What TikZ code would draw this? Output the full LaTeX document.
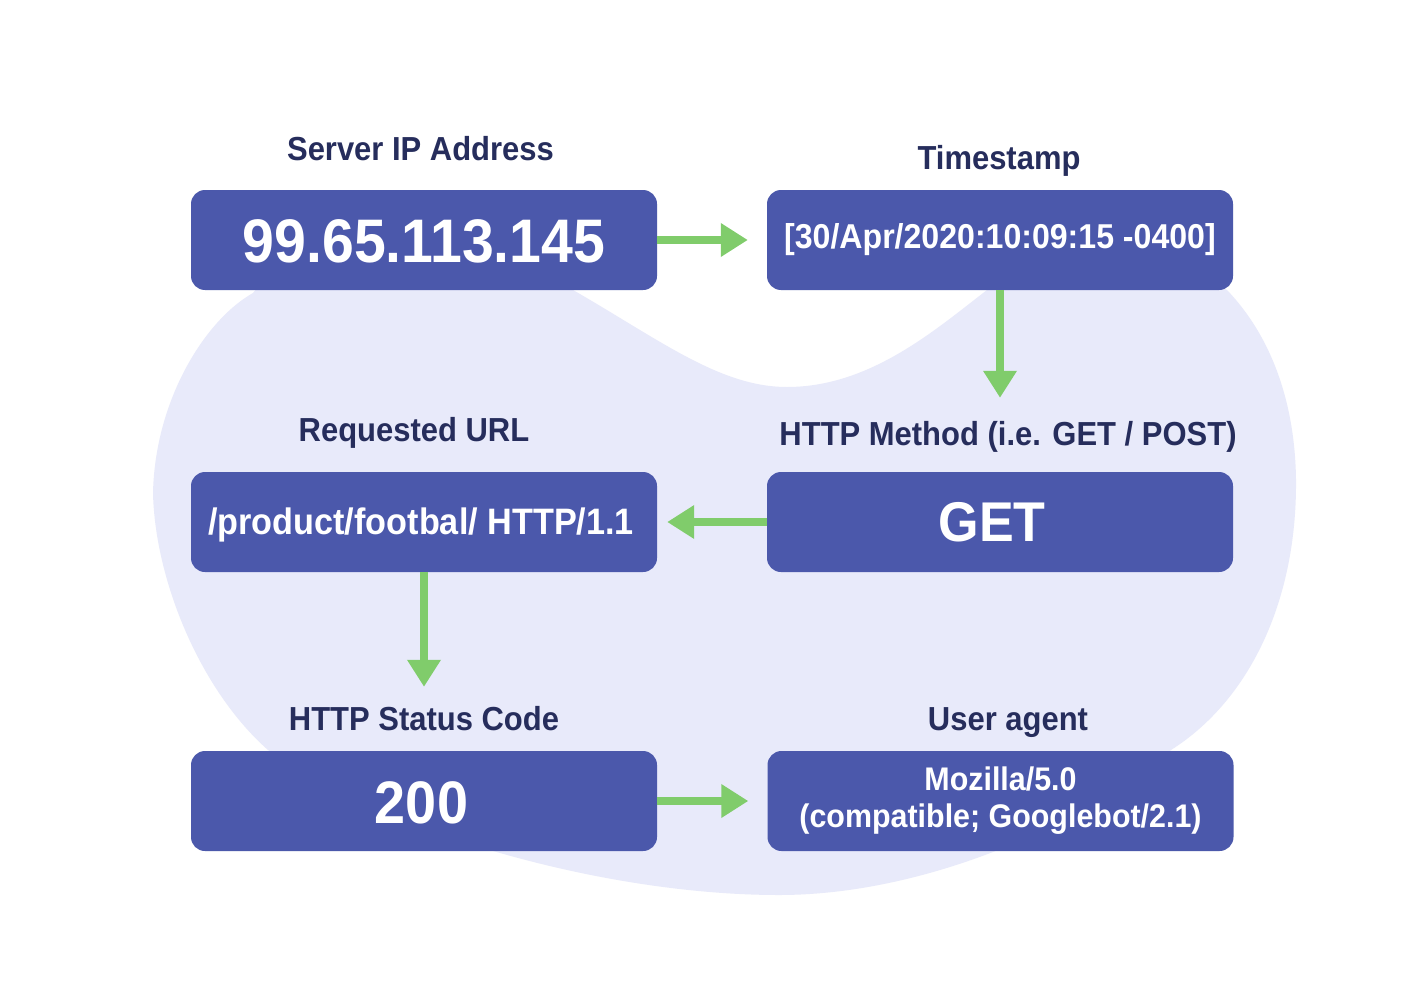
\documentclass[tikz,border=0pt]{standalone}
\usepackage{fontspec}
\usetikzlibrary{arrows.meta}
\newfontfamily\rob[FakeStretch=0.93]{Liberation Sans}
\definecolor{boxblue}{HTML}{4B58AB}
\definecolor{navy}{HTML}{262D5C}
\definecolor{blobc}{HTML}{E8EAFA}
\definecolor{arrgreen}{HTML}{80CC6B}
\newcommand{\lowerby}[2]{\raisebox{-#1}[\height][\depth]{#2}}
\tikzset{
  databox/.style={fill=boxblue, draw=none, rounded corners=14pt, minimum width=466pt, minimum height=100pt, inner sep=0pt, text=white, font=\rob\bfseries, align=center},
  lbl/.style={anchor=base, text=navy, inner sep=0pt, font=\rob\bfseries\fontsize{33.3}{36}\selectfont},
  flow/.style={draw=arrgreen, line width=8.5pt, -{Triangle[length=27pt,width=32pt]}, arrgreen}
}
\begin{document}
\begin{tikzpicture}[x=1pt,y=-1pt]
\fill[white] (0,0) rectangle (1426,1006);
\useasboundingbox (0,0) rectangle (1426,1006);
% background blob
\fill[blobc] (573,290) .. controls (660,340) and (720,387) .. (787,387)
  .. controls (870,387) and (935,330) .. (987,290)
  -- (997,282) -- (1212,282) -- (1227,290)
  .. controls (1270,335) and (1295,400) .. (1296,480)
  .. controls (1297,600) and (1250,700) .. (1171,750)
  .. controls (1090,820) and (930,895) .. (779,895)
  .. controls (600,895) and (380,830) .. (268,750)
  .. controls (200,690) and (155,580) .. (153,493)
  .. controls (155,400) and (205,320) .. (253,293)
  -- (262,282) -- (565,282) -- cycle;
% boxes
\node[databox, font=\rob\bfseries\fontsize{61.5}{61}\selectfont] (ip) at (424,240) {\lowerby{1pt}{99.65.113.145}};
\node[databox, font=\rob\bfseries\fontsize{34.5}{36}\selectfont] (ts) at (1000,240) {[30/Apr/2020:10:09:15 -0400]};
\node[databox, font=\rob\bfseries\fontsize{36.8}{38}\selectfont] (url) at (424,522) {\lowerby{3pt}{/product/footbal/ HTTP/1.1}\hspace*{6pt}};
\node[databox, font=\rob\bfseries\fontsize{56}{58}\selectfont] (meth) at (1000,522) {GET\hspace*{16pt}};
\node[databox, font=\rob\bfseries\fontsize{60}{60}\selectfont] (code) at (424,801) {\lowerby{2pt}{200}\hspace*{5pt}};
\node[databox, font=\rob\bfseries\fontsize{32.7}{37}\selectfont] (ua) at (1000.5,801) {Mozilla/5.0\\(compatible; Googlebot/2.1)};
% labels
\node[lbl] (lip) at (420.5,160) {Server IP Address};
\node[lbl] (lts) at (999,169) {Timestamp};
\node[lbl] (lurl) at (414,441) {Requested URL};
\node[lbl] (lmeth) at (1008,445) {HTTP Method (i.e. GET / POST)};
\node[lbl] (lcode) at (424,730) {HTTP Status Code};
\node[lbl] (lua) at (1008,730) {User agent};
% connectors
\draw[flow, shorten >=19pt] (ip.east) -- (ts.west);
\draw[flow, shorten >=74pt] (ts.south) -- (meth.north);
\draw[flow, shorten >=10pt] (meth.west) -- (meth.west -| url.east);
\draw[flow, shorten >=64pt] (url.south) -- (code.north);
\draw[flow, shorten >=19pt] (code.east) -- (ua.west);
\end{tikzpicture}
\end{document}
